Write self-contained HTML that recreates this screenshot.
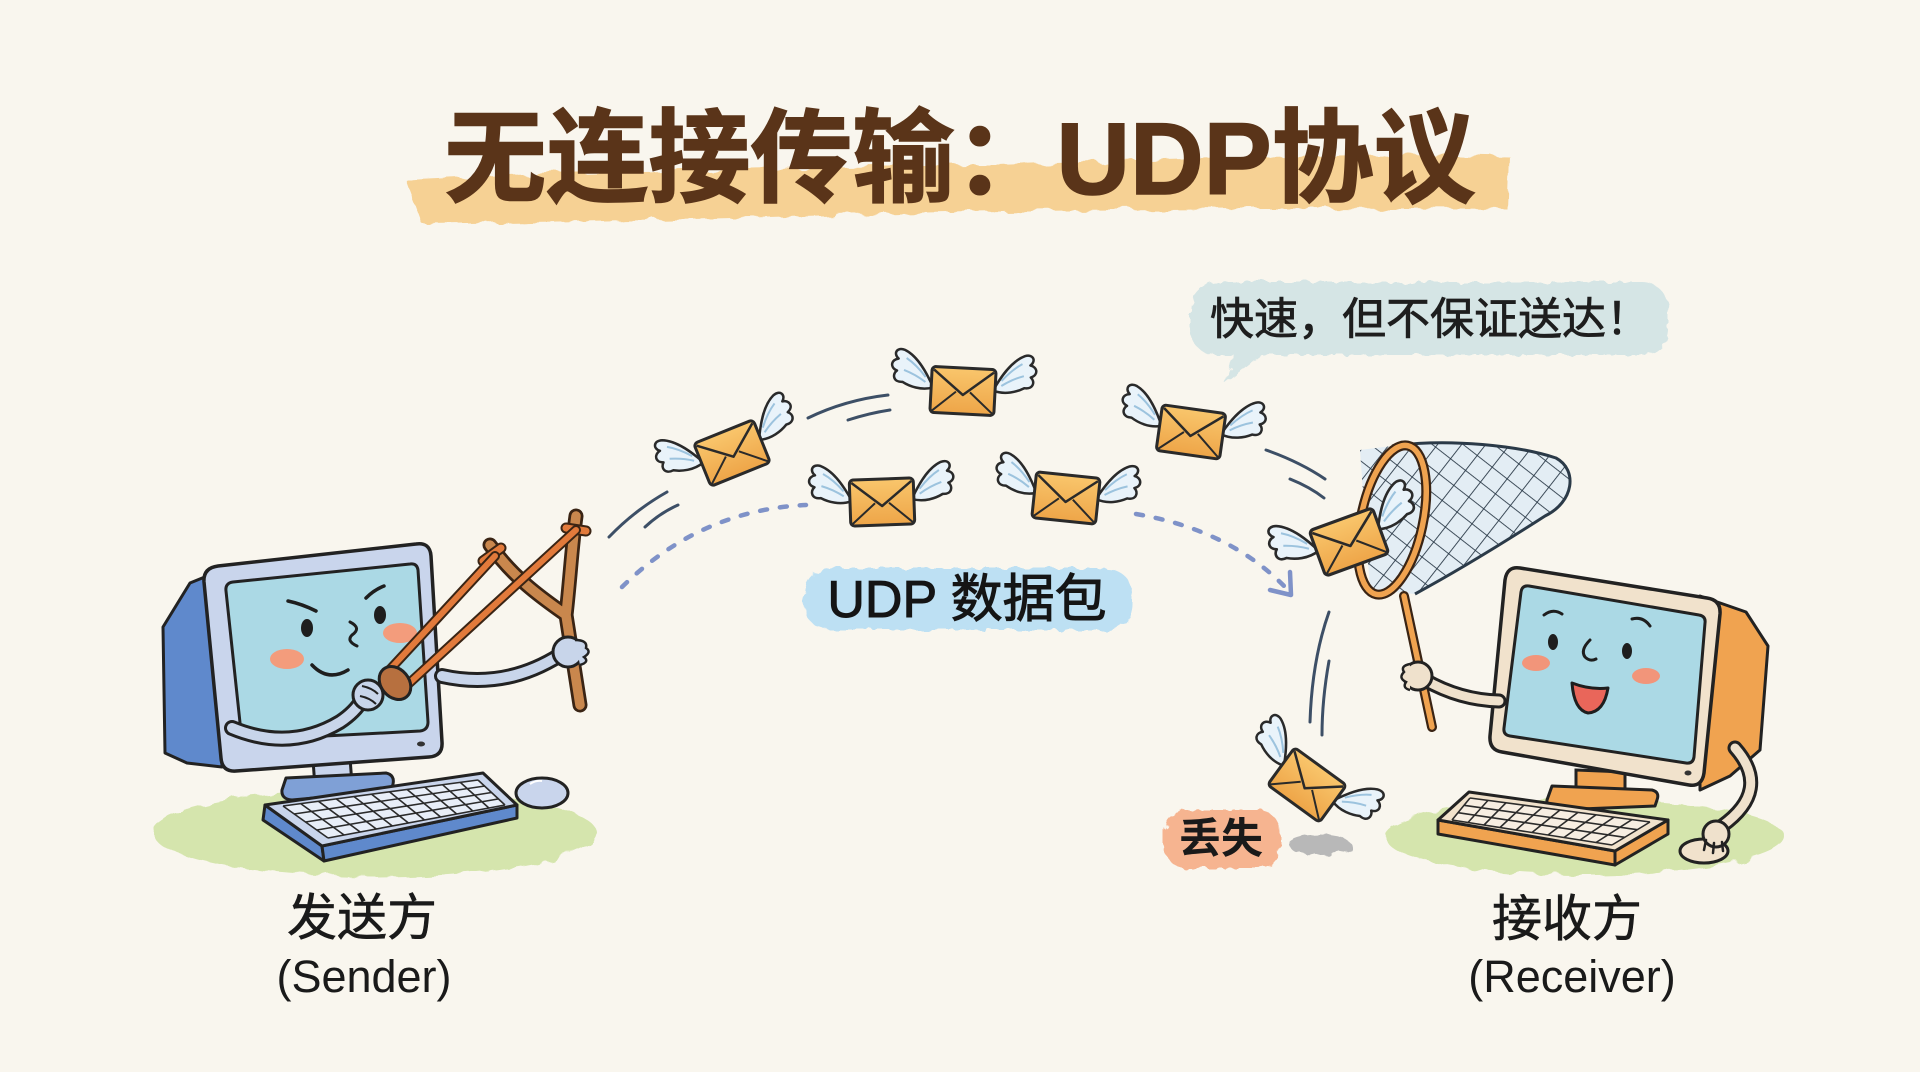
<!DOCTYPE html>
<html><head><meta charset="utf-8"><style>
html,body{margin:0;padding:0;background:#f9f6ee;}
svg{display:block;}
text{font-family:"Liberation Sans","Noto Sans CJK SC",sans-serif;}
</style></head><body>
<svg width="1920" height="1072" viewBox="0 0 1920 1072" xmlns="http://www.w3.org/2000/svg">
<defs>
 <filter id="rough" x="-10%" y="-40%" width="120%" height="180%">
  <feTurbulence type="fractalNoise" baseFrequency="0.05" numOctaves="2" seed="4"/>
  <feDisplacementMap in="SourceGraphic" scale="12"/>
 </filter>
 <filter id="rough2" x="-10%" y="-40%" width="120%" height="180%">
  <feTurbulence type="fractalNoise" baseFrequency="0.09" numOctaves="2" seed="7"/>
  <feDisplacementMap in="SourceGraphic" scale="9"/>
 </filter>
 <linearGradient id="envg" x1="0" y1="0" x2="0" y2="1">
  <stop offset="0" stop-color="#f9c66c"/><stop offset="1" stop-color="#eea548"/>
 </linearGradient>
 <pattern id="mesh" width="19" height="19" patternUnits="userSpaceOnUse" patternTransform="rotate(38)">
  <path d="M0 0 L19 0 M0 0 L0 19" stroke="#2b3a48" stroke-width="1.8" fill="none"/>
 </pattern>
 <g id="wing">
  <path d="M 0 4 C -6 -8, -16 -26, -30 -32 C -38 -35, -42 -28, -36 -23 C -43 -22, -45 -14, -37 -11 C -42 -7, -40 1, -31 0 C -24 4, -12 8, 0 4 Z" fill="#e9f3fa" stroke="#2a2a2a" stroke-width="2.5" stroke-linejoin="round"/>
  <path d="M -28 -24 Q -18 -18 -8 -6 M -30 -12 Q -18 -8 -8 -1" stroke="#9cc3de" stroke-width="2" fill="none"/>
 </g>
 <g id="env">
  <use href="#wing" transform="translate(-30,-6)"/>
  <use href="#wing" transform="translate(30,-6) scale(-1,1)"/>
  <rect x="-32" y="-23" width="64" height="46" rx="4" fill="url(#envg)" stroke="#2a2a2a" stroke-width="3"/>
  <path d="M -30 -20 L 0 4 L 30 -20" fill="none" stroke="#2a2a2a" stroke-width="2.5" stroke-linejoin="round"/>
  <path d="M -30 21 L -7 1 M 30 21 L 7 1" fill="none" stroke="#2a2a2a" stroke-width="2"/>
 </g>
 <clipPath id="netclip">
  <path d="M 1392 446 C 1450 438, 1520 446, 1556 458 C 1578 470, 1574 502, 1545 516 C 1500 545, 1450 575, 1415 594 L 1370 590 L 1360 450 Z"/>
 </clipPath>
</defs>

<rect width="1920" height="1072" fill="#f9f6ee"/>

<!-- Title highlight -->
<path d="M 406 180 Q 700 166 1000 166 Q 1300 152 1510 157 L 1508 210 Q 1200 206 900 213 Q 620 222 422 224 Z" fill="#f6cd8b" opacity="0.9" filter="url(#rough)"/>
<text x="960" y="194" text-anchor="middle" font-size="102" font-weight="bold" fill="#5a3419" stroke="#5a3419" stroke-width="1.5">无连接传输：UDP协议</text>

<!-- Speech bubble -->
<g filter="url(#rough2)">
 <rect x="1190" y="282" width="478" height="73" rx="26" fill="#d5e5e5"/>
 <path d="M 1236 350 L 1225 384 L 1268 350 Z" fill="#d5e5e5"/>
</g>
<text x="1430" y="334" text-anchor="middle" font-size="44" fill="#1e1e1e" stroke="#1e1e1e" stroke-width="0.8">快速，但不保证送达！</text>

<!-- motion lines -->
<g stroke="#3d4f66" stroke-width="3" fill="none" stroke-linecap="round">
 <path d="M 609 537 Q 635 510 667 492"/>
 <path d="M 645 527 Q 660 513 678 505"/>
 <path d="M 808 418 Q 845 400 888 395"/>
 <path d="M 848 420 Q 870 413 890 410"/>
 <path d="M 1266 450 Q 1300 462 1325 479"/>
 <path d="M 1290 479 Q 1310 487 1324 498"/>
 <path d="M 1329 612 Q 1312 660 1310 722"/>
 <path d="M 1329 661 Q 1322 700 1322 735"/>
</g>
<!-- dashed trajectories -->
<g stroke="#7f92c8" stroke-width="4.5" fill="none" stroke-linecap="round" stroke-dasharray="7 13">
 <path d="M 622 587 Q 700 510 806 505"/>
 <path d="M 1136 514 Q 1230 530 1286 588"/>
</g>
<path d="M 1270 590 L 1291 595 L 1290 572" stroke="#7f92c8" stroke-width="4.5" fill="none" stroke-linecap="round" stroke-linejoin="round"/>

<!-- UDP label -->
<rect x="804" y="568" width="328" height="62" rx="26" fill="#bde0f3" filter="url(#rough2)"/>
<text x="967" y="617" text-anchor="middle" font-size="52" fill="#151515" stroke="#151515" stroke-width="1">UDP 数据包</text>

<!-- flying envelopes -->
<use href="#env" transform="translate(732,453) rotate(-22)"/>
<use href="#env" transform="translate(963,391) rotate(3)"/>
<use href="#env" transform="translate(882,502) rotate(-2)"/>
<use href="#env" transform="translate(1066,498) rotate(6)"/>
<use href="#env" transform="translate(1191,432) rotate(8)"/>

<!-- ===== SENDER ===== -->
<ellipse cx="375" cy="833" rx="222" ry="44" fill="#cfe3a2" opacity="0.85" filter="url(#rough)"/>
<!-- back housing -->
<path d="M 163 627 L 190 583 L 217 572 L 222 767 L 187 763 L 165 753 Z" fill="#5f89cc" stroke="#222" stroke-width="3" stroke-linejoin="round"/>
<!-- stand -->
<path d="M 313 760 L 350 758 L 352 784 L 315 787 Z" fill="#c9d5ec" stroke="#222" stroke-width="3"/>
<path d="M 286 778 L 386 773 Q 395 775 393 784 L 391 791 L 292 800 Q 281 799 282 790 Z" fill="#7fa0d6" stroke="#222" stroke-width="3" stroke-linejoin="round"/>
<!-- bezel -->
<path d="M 218 566 L 416 544 Q 430 542 431 556 L 442 742 Q 443 756 429 757 L 236 771 Q 222 772 221 758 L 204 582 Q 203 568 218 566 Z" fill="#c9d5ec" stroke="#222" stroke-width="3.5"/>
<path d="M 233 582 L 410 564 Q 417 563 418 570 L 428 722 Q 428 730 420 731 L 250 740 Q 242 740 241 732 L 226 591 Q 225 583 233 582 Z" fill="#abd9e5" stroke="#222" stroke-width="3"/>
<ellipse cx="421" cy="744" rx="4" ry="2.5" fill="#333"/>
<!-- face -->
<ellipse cx="307" cy="628" rx="6" ry="9" fill="#1e1e1e"/>
<ellipse cx="380" cy="615" rx="6" ry="9" fill="#1e1e1e"/>
<path d="M 288 601 Q 302 604 316 611 M 366 598 Q 374 590 384 586" stroke="#1e1e1e" stroke-width="3.5" fill="none" stroke-linecap="round"/>
<path d="M 350 622 Q 362 628 352 635 Q 346 641 357 646" stroke="#1e1e1e" stroke-width="3" fill="none" stroke-linecap="round"/>
<ellipse cx="287" cy="659" rx="17" ry="10" fill="#f39c7c"/>
<ellipse cx="400" cy="633" rx="17" ry="10" fill="#f39c7c"/>
<path d="M 312 665 Q 328 682 348 670" stroke="#1e1e1e" stroke-width="3.5" fill="none" stroke-linecap="round"/>
<!-- keyboard -->
<path d="M 265 805 L 322 846 L 324 861 L 263 820 Z" fill="#5f89cc" stroke="#222" stroke-width="3" stroke-linejoin="round"/>
<path d="M 322 846 L 517 805 L 517 818 L 324 861 Z" fill="#5f89cc" stroke="#222" stroke-width="3" stroke-linejoin="round"/>
<path d="M 265 805 L 483 773 L 517 805 L 322 846 Z" fill="#c9d5ec" stroke="#222" stroke-width="3" stroke-linejoin="round"/>
<path d="M 283 806 L 478 780 L 505 805 L 328 838 Z" fill="#e8eef8"/>
<g stroke="#2b2b2b" stroke-width="1.6" fill="none">
 <path d="M 283 806 L 478 780 M 294 814 L 485 786 M 305.5 822 L 491.5 792.5 M 317 830 L 498 799 M 328 838 L 505 805"/>
 <path d="M 283 806 L 328 838 M 300.7 803.6 L 344.1 835 M 318.5 801.3 L 360.2 832 M 336.2 798.9 L 376.3 829 M 353.9 796.5 L 392.4 826 M 371.6 794.2 L 408.5 823 M 389.4 791.8 L 424.5 820 M 407.1 789.5 L 440.6 817 M 424.8 787.1 L 456.7 814 M 442.5 784.7 L 472.8 811 M 460.3 782.4 L 488.9 808 M 478 780 L 505 805"/>
</g>
<!-- mouse -->
<ellipse cx="542" cy="793" rx="26" ry="15" fill="#c9d5ec" stroke="#222" stroke-width="3"/>
<path d="M 530 784 Q 536 780 542 781" stroke="#fff" stroke-width="2" fill="none"/>
<!-- slingshot -->
<g fill="none" stroke-linecap="round" stroke-linejoin="round">
 <path d="M 566 615 L 580 705 M 566 615 C 545 600, 515 580, 490 545 M 566 615 C 570 580, 572 545, 576 516" stroke="#3a2414" stroke-width="15"/>
 <path d="M 566 615 L 580 705 M 566 615 C 545 600, 515 580, 490 545 M 566 615 C 570 580, 572 545, 576 516" stroke="#c9874d" stroke-width="9.5"/>
 <path d="M 483 561 L 501 548 M 566 528 L 586 531" stroke="#3a2414" stroke-width="11"/>
 <path d="M 483 561 L 501 548 M 566 528 L 586 531" stroke="#e27a3b" stroke-width="7"/>
 <path d="M 495 556 L 383 677 M 576 530 L 404 688" stroke="#3a2414" stroke-width="10"/>
 <path d="M 495 556 L 383 677 M 576 530 L 404 688" stroke="#e27a3b" stroke-width="6"/>
</g>
<ellipse cx="395" cy="683" rx="14" ry="18" transform="rotate(-40 395 683)" fill="#b7703f" stroke="#222" stroke-width="3"/>
<!-- arms -->
<g fill="none" stroke-linecap="round">
 <path d="M 232 728 Q 290 752 340 722 Q 355 712 362 700" stroke="#222" stroke-width="16"/>
 <path d="M 232 728 Q 290 752 340 722 Q 355 712 362 700" stroke="#c8d5ea" stroke-width="10"/>
 <path d="M 442 676 Q 505 690 560 655" stroke="#222" stroke-width="16"/>
 <path d="M 442 676 Q 505 690 560 655" stroke="#c8d5ea" stroke-width="10"/>
</g>
<circle cx="368" cy="695" r="15" fill="#c8d5ea" stroke="#222" stroke-width="3"/>
<path d="M 362 686 Q 372 688 378 694 M 360 696 Q 370 698 376 704" stroke="#222" stroke-width="2" fill="none"/>
<circle cx="568" cy="652" r="15" fill="#c8d5ea" stroke="#222" stroke-width="3"/>
<path d="M 575 640 Q 588 640 586 648 Q 592 652 584 657 Q 590 662 580 665" fill="#c8d5ea" stroke="#222" stroke-width="2.5"/>
<!-- labels -->
<text x="362" y="935" text-anchor="middle" font-size="50" fill="#1a1a1a" stroke="#1a1a1a" stroke-width="0.6">发送方</text>
<text x="364" y="992" text-anchor="middle" font-size="45" fill="#1a1a1a">(Sender)</text>

<!-- ===== RECEIVER ===== -->
<ellipse cx="1585" cy="837" rx="200" ry="38" fill="#cfe3a2" opacity="0.85" filter="url(#rough)"/>
<!-- net -->
<g clip-path="url(#netclip)">
 <rect x="1350" y="430" width="240" height="180" fill="#e3edf4"/>
 <rect x="1350" y="430" width="240" height="180" fill="url(#mesh)"/>
</g>
<path d="M 1392 446 C 1450 438, 1520 446, 1556 458 C 1578 470, 1574 502, 1545 516 C 1500 545, 1450 575, 1415 594" fill="none" stroke="#2b3a48" stroke-width="3"/>
<!-- handle -->
<path d="M 1404 596 L 1432 727" stroke="#3a2414" stroke-width="10" stroke-linecap="round"/>
<path d="M 1404 596 L 1432 727" stroke="#f0a350" stroke-width="5.5" stroke-linecap="round"/>
<ellipse cx="1392" cy="520" rx="31" ry="76" transform="rotate(12 1392 520)" fill="none" stroke="#3a2414" stroke-width="10"/>
<ellipse cx="1392" cy="520" rx="31" ry="76" transform="rotate(12 1392 520)" fill="none" stroke="#f0a350" stroke-width="5.5"/>
<use href="#env" transform="translate(1349,542) rotate(-20) scale(1.05)"/>
<!-- back housing -->
<path d="M 1700 596 L 1746 612 L 1768 646 L 1760 750 L 1730 776 L 1700 790 Z" fill="#f0a350" stroke="#222" stroke-width="3" stroke-linejoin="round"/>
<!-- stand -->
<path d="M 1576 770 L 1625 772 L 1625 794 L 1576 792 Z" fill="#f0a350" stroke="#222" stroke-width="3"/>
<path d="M 1552 786 L 1652 790 Q 1660 792 1657 800 L 1655 806 L 1556 810 Q 1546 808 1547 800 Z" fill="#f0a350" stroke="#222" stroke-width="3" stroke-linejoin="round"/>
<!-- bezel -->
<path d="M 1520 568 L 1707 598 Q 1721 600 1720 614 L 1704 773 Q 1702 787 1689 785 L 1502 752 Q 1489 750 1490 736 L 1505 580 Q 1507 566 1520 568 Z" fill="#f1e2cc" stroke="#222" stroke-width="3.5"/>
<path d="M 1529 586 L 1699 615 Q 1706 616 1705 623 L 1694 757 Q 1693 764 1686 763 L 1510 736 Q 1503 735 1504 728 L 1521 592 Q 1522 585 1529 586 Z" fill="#abd9e5" stroke="#222" stroke-width="3"/>
<ellipse cx="1688" cy="773" rx="3.5" ry="2.5" fill="#333"/>
<!-- face -->
<ellipse cx="1553" cy="642" rx="5" ry="8" fill="#1e1e1e"/>
<ellipse cx="1627" cy="651" rx="5" ry="8" fill="#1e1e1e"/>
<path d="M 1544 615 Q 1553 608 1562 614 M 1632 619 Q 1643 616 1650 626" stroke="#1e1e1e" stroke-width="3" fill="none" stroke-linecap="round"/>
<path d="M 1590 640 Q 1580 650 1585 657 Q 1590 662 1596 659" stroke="#1e1e1e" stroke-width="3" fill="none" stroke-linecap="round"/>
<ellipse cx="1536" cy="663" rx="14" ry="8" fill="#f2957a"/>
<ellipse cx="1646" cy="676" rx="14" ry="8" fill="#f2957a"/>
<path d="M 1572 683 Q 1590 690 1608 688 Q 1604 712 1588 713 Q 1574 710 1572 683 Z" fill="#e9665a" stroke="#1e1e1e" stroke-width="3" stroke-linejoin="round"/>
<!-- keyboard -->
<path d="M 1438 820 L 1615 851 L 1615 865 L 1438 834 Z" fill="#f0a350" stroke="#222" stroke-width="3" stroke-linejoin="round"/>
<path d="M 1615 851 L 1668 820 L 1668 834 L 1615 865 Z" fill="#f0a350" stroke="#222" stroke-width="3" stroke-linejoin="round"/>
<path d="M 1469 792 L 1668 820 L 1615 851 L 1438 820 Z" fill="#f1e2cc" stroke="#222" stroke-width="3" stroke-linejoin="round"/>
<path d="M 1470 798 L 1650 822 L 1612 845 L 1452 820 Z" fill="#f7eee2"/>
<g stroke="#2b2b2b" stroke-width="1.6" fill="none">
 <path d="M 1470 798 L 1650 822 M 1464 805.3 L 1637.3 829.7 M 1458 812.7 L 1624.7 837.3 M 1452 820 L 1612 845"/>
 <path d="M 1470 798 L 1452 820 M 1488 800.4 L 1468 822.5 M 1506 802.8 L 1484 825 M 1524 805.2 L 1500 827.5 M 1542 807.6 L 1516 830 M 1560 810 L 1532 832.5 M 1578 812.4 L 1548 835 M 1596 814.8 L 1564 837.5 M 1614 817.2 L 1580 840 M 1632 819.6 L 1596 842.5 M 1650 822 L 1612 845"/>
</g>
<!-- mouse + arm -->
<ellipse cx="1704" cy="851" rx="24" ry="12" fill="#f1e2cc" stroke="#222" stroke-width="3"/>
<g fill="none" stroke-linecap="round">
 <path d="M 1735 748 Q 1772 790 1722 826" stroke="#222" stroke-width="15"/>
 <path d="M 1735 748 Q 1772 790 1722 826" stroke="#efe1cc" stroke-width="9"/>
 <path d="M 1499 701 Q 1460 700 1425 680" stroke="#222" stroke-width="15"/>
 <path d="M 1499 701 Q 1460 700 1425 680" stroke="#efe1cc" stroke-width="9"/>
</g>
<circle cx="1716" cy="834" r="13" fill="#efe1cc" stroke="#222" stroke-width="3"/>
<path d="M 1706 840 L 1704 850 M 1714 843 L 1713 853 M 1722 842 L 1723 851" stroke="#222" stroke-width="2.5" stroke-linecap="round"/>
<circle cx="1418" cy="676" r="14" fill="#efe1cc" stroke="#222" stroke-width="3"/>
<path d="M 1410 664 Q 1400 666 1404 672 Q 1398 678 1406 682 Q 1402 688 1410 690" fill="#efe1cc" stroke="#222" stroke-width="2.5"/>
<!-- labels -->
<text x="1567" y="936" text-anchor="middle" font-size="50" fill="#1a1a1a" stroke="#1a1a1a" stroke-width="0.6">接收方</text>
<text x="1572" y="992" text-anchor="middle" font-size="45" fill="#1a1a1a">(Receiver)</text>

<!-- lost packet -->
<use href="#env" transform="translate(1307,785) rotate(36)"/>
<ellipse cx="1320" cy="845" rx="31" ry="10" fill="#b8b8b8" filter="url(#rough2)"/>
<rect x="1164" y="810" width="116" height="58" rx="22" fill="#f6b490" filter="url(#rough2)"/>
<text x="1221" y="853" text-anchor="middle" font-size="42" font-weight="bold" fill="#1a1a1a">丢失</text>
</svg>
</body></html>
